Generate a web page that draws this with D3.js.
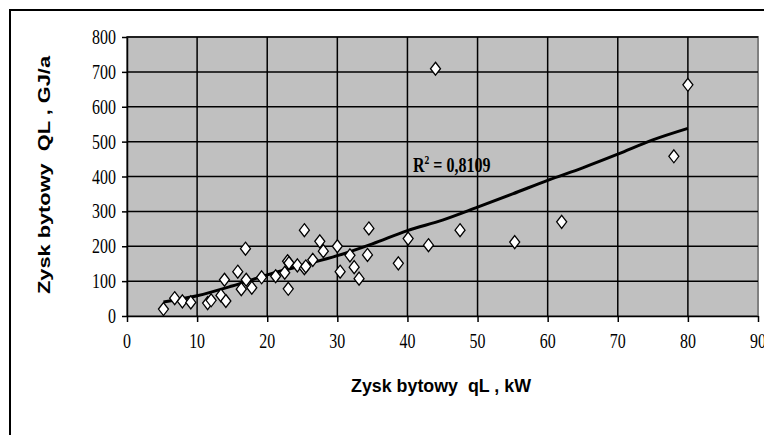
<!DOCTYPE html>
<html>
<head>
<meta charset="utf-8">
<script src="https://cdn.jsdelivr.net/npm/d3@7"></script>
<style>
  body { margin: 0; background: #fff; }
  svg { display: block; }
</style>
</head>
<body>
<script>
// scatter values (qL in kW, QL in GJ/a)
var qL = [5.2, 6.8, 7.9, 9.1, 11.5, 12.0, 13.4, 13.9, 14.1, 15.8, 16.3, 16.9, 17.0, 17.8, 19.2,
          21.2, 22.5, 22.9, 23.0, 23.1, 24.3, 25.3, 25.3, 25.5, 26.5, 27.5, 28.0, 30.0, 30.4,
          31.8, 32.4, 33.1, 34.5, 34.3, 38.7, 40.1, 44.0, 43.0, 47.5, 55.3, 62.0, 78.0, 80.0];
var QL = [20, 51, 42, 39, 37, 45, 59, 104, 43, 127, 77, 193, 104, 81, 111,
          114, 124, 157, 78, 152, 145, 246, 137, 142, 161, 214, 186, 200, 127,
          174, 140, 107, 251, 175, 151, 222, 709, 203, 246, 212, 270, 458, 663];

// trend line as drawn
var trendX = [5.2, 10, 15, 20, 25, 30, 35, 40, 45, 50, 55, 60, 65, 70, 75, 80];
var trendY = [40, 58, 86, 118, 145, 173, 207, 245, 275, 312, 350, 389, 425, 464, 505, 538];

var xTicks = [0, 10, 20, 30, 40, 50, 60, 70, 80, 90];
var yTicks = [0, 100, 200, 300, 400, 500, 600, 700, 800];
var xTitle = "Zysk bytowy\u00a0\u00a0qL , kW";
var yTitle = "Zysk bytowy\u00a0\u00a0QL , GJ/a";
var r2Label = "0,8109";

var width = 764, height = 435;
var plotLeft = 127, plotRight = 758, plotTop = 37, plotBottom = 316;

var svg = d3.select("body").append("svg")
    .attr("width", width)
    .attr("height", height);

// outer chart frame
svg.append("rect")
    .attr("x", 10).attr("y", 10)
    .attr("width", 780).attr("height", 450)
    .attr("fill", "#fff")
    .attr("stroke", "#000")
    .attr("stroke-width", 2);

var x = d3.scaleLinear().domain([0, 90]).range([plotLeft, plotRight]);
var y = d3.scaleLinear().domain([0, 800]).range([plotBottom, plotTop]);

// plot area
svg.append("rect")
    .attr("x", plotLeft).attr("y", plotTop)
    .attr("width", plotRight - plotLeft).attr("height", plotBottom - plotTop)
    .attr("fill", "#c0c0c0")
    .attr("stroke", "#808080")
    .attr("stroke-width", 2);

// grid
var grid = svg.append("g");
grid.selectAll(".gx").data(xTicks.slice(1, -1)).enter().append("line")
    .attr("x1", d => x(d)).attr("x2", d => x(d))
    .attr("y1", plotTop).attr("y2", plotBottom)
    .attr("stroke", "#000").attr("stroke-width", 1.5);
grid.selectAll(".gy").data(yTicks.slice(1)).enter().append("line")
    .attr("x1", plotLeft).attr("x2", plotRight)
    .attr("y1", d => y(d)).attr("y2", d => y(d))
    .attr("stroke", "#000").attr("stroke-width", 1.5);

// axes
var xAxis = d3.axisBottom(x).tickValues(xTicks).tickSize(6).tickSizeOuter(0).tickFormat("");
var yAxis = d3.axisLeft(y).tickValues(yTicks).tickSize(5).tickSizeOuter(0).tickFormat("");

svg.append("g")
    .attr("transform", "translate(0," + plotBottom + ")")
    .call(xAxis)
    .call(g => g.selectAll("line, path").attr("stroke", "#000").attr("stroke-width", 1.5));

svg.append("g")
    .attr("transform", "translate(" + plotLeft + ",0)")
    .call(yAxis)
    .call(g => g.selectAll("line, path").attr("stroke", "#000").attr("stroke-width", 1.5));

// tick labels: condensed serif, like the stretched original
function label(px, py, txt, anchor) {
    svg.append("text")
        .attr("transform", "translate(" + px + "," + py + ") scale(0.76,1)")
        .attr("text-anchor", anchor)
        .attr("font-family", "Liberation Serif, Times New Roman, serif")
        .attr("font-size", 21)
        .attr("fill", "#000")
        .text(txt);
}
yTicks.forEach(d => label(plotLeft - 11, y(d) + 7, d, "end"));
xTicks.forEach(d => label(x(d), 348, d, "middle"));

// trend line
var line = d3.line()
    .x((d, i) => x(trendX[i]))
    .y((d, i) => y(trendY[i]))
    .curve(d3.curveCatmullRom);

svg.append("path")
    .attr("d", line(trendX))
    .attr("fill", "none")
    .attr("stroke", "#000")
    .attr("stroke-width", 3);

// points
var diamond = "M0,-6.5L5,0L0,6.5L-5,0Z";
svg.append("g").selectAll("path")
    .data(qL)
    .enter().append("path")
    .attr("d", diamond)
    .attr("transform", (d, i) => "translate(" + x(d) + "," + y(QL[i]) + ")")
    .attr("fill", "#fff")
    .attr("stroke", "#000")
    .attr("stroke-width", 1.3);

// R^2 label
var r2 = svg.append("text")
    .attr("transform", "translate(413,172) scale(0.8,1)")
    .attr("font-family", "Liberation Serif, Times New Roman, serif")
    .attr("font-weight", "bold")
    .attr("font-size", 20)
    .attr("fill", "#000");
r2.append("tspan").text("R");
r2.append("tspan").attr("font-size", 12).attr("dy", -8).text("2");
r2.append("tspan").attr("dy", 8).text(" = " + r2Label);

// axis titles
svg.append("text")
    .attr("x", 441).attr("y", 392)
    .attr("text-anchor", "middle")
    .attr("font-family", "Liberation Sans, Arial, sans-serif")
    .attr("font-weight", "bold")
    .attr("font-size", 18)
    .attr("textLength", 180)
    .attr("lengthAdjust", "spacingAndGlyphs")
    .text(xTitle);

svg.append("text")
    .attr("transform", "translate(50,175) rotate(-90)")
    .attr("text-anchor", "middle")
    .attr("font-family", "Liberation Sans, Arial, sans-serif")
    .attr("font-weight", "bold")
    .attr("font-size", 17)
    .attr("textLength", 238)
    .attr("lengthAdjust", "spacingAndGlyphs")
    .text(yTitle);
</script>
</body>
</html>
